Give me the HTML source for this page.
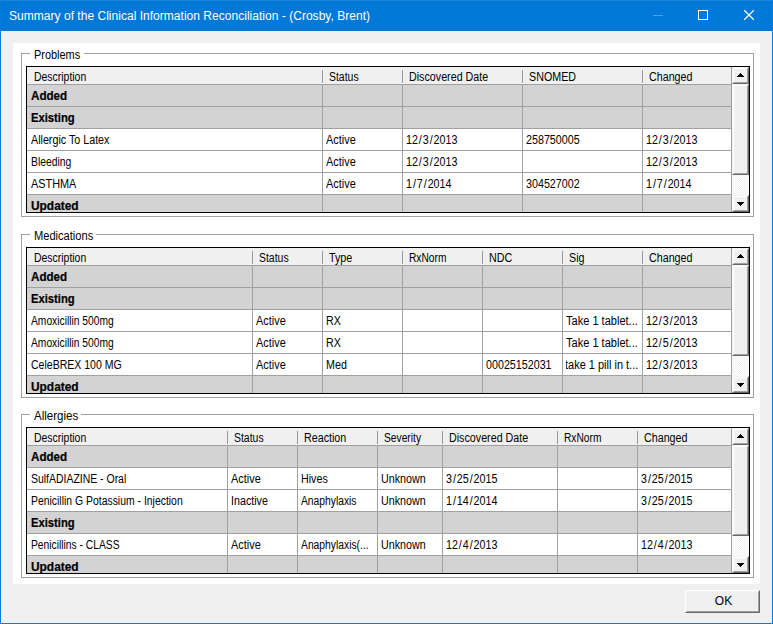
<!DOCTYPE html>
<html><head><meta charset="utf-8"><title>Summary</title>
<style>
html,body{margin:0;padding:0}
body{width:773px;height:624px;overflow:hidden;background:#f0f0f0;position:relative;font-family:"Liberation Sans",sans-serif;font-size:12px;color:#000}
.a{position:absolute}
.tb{left:0;top:0;width:773px;height:31px;background:#0078d7}
.bl{left:0;top:0;width:1px;height:624px;background:#0a7cd8}
.br{left:772px;top:0;width:1px;height:624px;background:#0a7cd8}
.bb{left:0;top:623px;width:773px;height:1px;background:#0a7cd8}
.title{left:9px;top:1px;height:31px;line-height:31px;color:#fff;font-size:12px;white-space:nowrap;transform-origin:0 50%;transform:scaleX(1.005)}
.panel{left:13px;top:43px;width:747px;height:541px;background:#fff}
.gb{border:1px solid #a0a0a0;box-sizing:border-box}
.gl{background:#fff;white-space:nowrap;height:14px;line-height:14px}
.t{display:inline-block;white-space:nowrap;transform-origin:0 50%;transform:scaleX(.893)}
.b .t{transform:scaleX(.95)}
.grid{background:#000}
.hd{background:#f0f0f0}
.ln{background:#a0a0a0}
.g{background:#d3d3d3}
.w{background:#fff}
.c{white-space:nowrap;overflow:hidden;height:21px;line-height:23px}
.h{white-space:nowrap;overflow:hidden;height:17px;line-height:20px}
.b{font-weight:bold;-webkit-text-stroke:.2px #000}
s{text-decoration:none;margin:0 1.05px}
.sbtn{box-sizing:border-box;background:#f0f0f0;border-style:solid;border-width:1px;border-color:#f4f4f4 #696969 #696969 #f4f4f4}
.sbtn i{position:absolute;left:0;top:0;right:0;bottom:0;border-style:solid;border-width:1px;border-color:#fff #a0a0a0 #a0a0a0 #fff}
.trk{background-color:#f0f0f0;background-image:linear-gradient(45deg,#fff 25%,transparent 25%,transparent 75%,#fff 75%),linear-gradient(45deg,#fff 25%,transparent 25%,transparent 75%,#fff 75%);background-size:2px 2px;background-position:0 0,1px 1px}
</style></head>
<body>
<div class="a tb"></div><div class="a" style="left:0;top:0;width:773px;height:1px;background:#1a84da"></div>
<div class="a title" id="title">Summary of the Clinical Information Reconciliation - (Crosby, Brent)</div>
<svg class="a" style="left:640px;top:0" width="133" height="31" viewBox="640 0 133 31"><rect x="653" y="15" width="10" height="1" fill="#4da0e3"/><rect x="698.5" y="10.5" width="9" height="9" fill="none" stroke="#fff" stroke-width="1"/><path d="M744.2 10.2 L753.8 19.8 M753.8 10.2 L744.2 19.8" stroke="#fff" stroke-width="1.25" fill="none"/></svg>
<div class="a panel"></div>
<div class="a gb" style="left:21px;top:53px;width:733px;height:164px"></div>
<div class="a gl" id="gl_Problems" style="left:30px;top:48px;width:50px;padding-left:4px"><span class="t" style="transform:scaleX(0.91);">Problems</span></div>
<div class="a grid" style="left:26px;top:66px;width:724px;height:147px"></div>
<div class="a hd" style="left:27px;top:67px;width:705px;height:17px"></div>
<div class="a ln" style="left:27px;top:84px;width:705px;height:128px"></div>
<div class="a ln" style="left:731px;top:67px;width:1px;height:17px"></div>
<div class="a ln" style="left:322px;top:70px;width:1px;height:13px;background:#9a9a9a"></div>
<div class="a ln" style="left:402px;top:70px;width:1px;height:13px;background:#9a9a9a"></div>
<div class="a ln" style="left:522px;top:70px;width:1px;height:13px;background:#9a9a9a"></div>
<div class="a ln" style="left:642px;top:70px;width:1px;height:13px;background:#9a9a9a"></div>
<div class="a h" style="left:34px;top:67px;width:288px;height:17px"><span class="t" style="transform:scaleX(0.87);">Description</span></div>
<div class="a h" style="left:329px;top:67px;width:73px;height:17px"><span class="t" style="transform:scaleX(0.87);">Status</span></div>
<div class="a h" style="left:409px;top:67px;width:113px;height:17px"><span class="t">Discovered Date</span></div>
<div class="a h" style="left:529px;top:67px;width:113px;height:17px"><span class="t">SNOMED</span></div>
<div class="a h" style="left:649px;top:67px;width:82px;height:17px"><span class="t">Changed</span></div>
<div class="a g" style="left:27px;top:85px;width:295px;height:21px"></div>
<div class="a c b" style="left:31px;top:85px;width:291px;height:21px"><span class="t" style="transform:scaleX(0.969);">Added</span></div>
<div class="a g" style="left:323px;top:85px;width:79px;height:21px"></div>
<div class="a g" style="left:403px;top:85px;width:119px;height:21px"></div>
<div class="a g" style="left:523px;top:85px;width:119px;height:21px"></div>
<div class="a g" style="left:643px;top:85px;width:88px;height:21px"></div>
<div class="a g" style="left:27px;top:107px;width:295px;height:21px"></div>
<div class="a c b" style="left:31px;top:107px;width:291px;height:21px"><span class="t" style="transform:scaleX(0.936);">Existing</span></div>
<div class="a g" style="left:323px;top:107px;width:79px;height:21px"></div>
<div class="a g" style="left:403px;top:107px;width:119px;height:21px"></div>
<div class="a g" style="left:523px;top:107px;width:119px;height:21px"></div>
<div class="a g" style="left:643px;top:107px;width:88px;height:21px"></div>
<div class="a w" style="left:27px;top:129px;width:295px;height:21px"></div>
<div class="a c" style="left:31px;top:129px;width:291px;height:21px"><span class="t">Allergic To Latex</span></div>
<div class="a w" style="left:323px;top:129px;width:79px;height:21px"></div>
<div class="a c" style="left:326px;top:129px;width:76px;height:21px"><span class="t" style="transform:scaleX(0.909);">Active</span></div>
<div class="a w" style="left:403px;top:129px;width:119px;height:21px"></div>
<div class="a c" style="left:406px;top:129px;width:116px;height:21px"><span class="t">12<s>/</s>3<s>/</s>2013</span></div>
<div class="a w" style="left:523px;top:129px;width:119px;height:21px"></div>
<div class="a c" style="left:526px;top:129px;width:116px;height:21px"><span class="t">258750005</span></div>
<div class="a w" style="left:643px;top:129px;width:88px;height:21px"></div>
<div class="a c" style="left:646px;top:129px;width:85px;height:21px"><span class="t">12<s>/</s>3<s>/</s>2013</span></div>
<div class="a w" style="left:27px;top:151px;width:295px;height:21px"></div>
<div class="a c" style="left:31px;top:151px;width:291px;height:21px"><span class="t" style="transform:scaleX(0.864);">Bleeding</span></div>
<div class="a w" style="left:323px;top:151px;width:79px;height:21px"></div>
<div class="a c" style="left:326px;top:151px;width:76px;height:21px"><span class="t" style="transform:scaleX(0.909);">Active</span></div>
<div class="a w" style="left:403px;top:151px;width:119px;height:21px"></div>
<div class="a c" style="left:406px;top:151px;width:116px;height:21px"><span class="t">12<s>/</s>3<s>/</s>2013</span></div>
<div class="a w" style="left:523px;top:151px;width:119px;height:21px"></div>
<div class="a w" style="left:643px;top:151px;width:88px;height:21px"></div>
<div class="a c" style="left:646px;top:151px;width:85px;height:21px"><span class="t">12<s>/</s>3<s>/</s>2013</span></div>
<div class="a w" style="left:27px;top:173px;width:295px;height:21px"></div>
<div class="a c" style="left:31px;top:173px;width:291px;height:21px"><span class="t" style="transform:scaleX(0.907);">ASTHMA</span></div>
<div class="a w" style="left:323px;top:173px;width:79px;height:21px"></div>
<div class="a c" style="left:326px;top:173px;width:76px;height:21px"><span class="t" style="transform:scaleX(0.909);">Active</span></div>
<div class="a w" style="left:403px;top:173px;width:119px;height:21px"></div>
<div class="a c" style="left:406px;top:173px;width:116px;height:21px"><span class="t">1<s>/</s>7<s>/</s>2014</span></div>
<div class="a w" style="left:523px;top:173px;width:119px;height:21px"></div>
<div class="a c" style="left:526px;top:173px;width:116px;height:21px"><span class="t">304527002</span></div>
<div class="a w" style="left:643px;top:173px;width:88px;height:21px"></div>
<div class="a c" style="left:646px;top:173px;width:85px;height:21px"><span class="t">1<s>/</s>7<s>/</s>2014</span></div>
<div class="a g" style="left:27px;top:195px;width:295px;height:17px"></div>
<div class="a c b" style="left:31px;top:195px;width:291px;height:17px"><span class="t" style="transform:scaleX(0.992);">Updated</span></div>
<div class="a g" style="left:323px;top:195px;width:79px;height:17px"></div>
<div class="a g" style="left:403px;top:195px;width:119px;height:17px"></div>
<div class="a g" style="left:523px;top:195px;width:119px;height:17px"></div>
<div class="a g" style="left:643px;top:195px;width:88px;height:17px"></div>
<div class="a sbtn" style="left:732px;top:67px;width:17px;height:17px"><i></i></div>
<div class="a" style="left:740px;top:73px;width:1px;height:1px;background:#000"></div><div class="a" style="left:739px;top:74px;width:3px;height:1px;background:#000"></div><div class="a" style="left:738px;top:75px;width:5px;height:1px;background:#000"></div><div class="a" style="left:737px;top:76px;width:7px;height:1px;background:#000"></div>
<div class="a sbtn" style="left:732px;top:84px;width:17px;height:91px"><i></i></div>
<div class="a trk" style="left:732px;top:175px;width:17px;height:20px"></div>
<div class="a sbtn" style="left:732px;top:195px;width:17px;height:17px"><i></i></div>
<div class="a" style="left:737px;top:202px;width:7px;height:1px;background:#000"></div><div class="a" style="left:738px;top:203px;width:5px;height:1px;background:#000"></div><div class="a" style="left:739px;top:204px;width:3px;height:1px;background:#000"></div><div class="a" style="left:740px;top:205px;width:1px;height:1px;background:#000"></div>
<div class="a gb" style="left:21px;top:234px;width:733px;height:164px"></div>
<div class="a gl" id="gl_Medications" style="left:30px;top:229px;width:62px;padding-left:4px"><span class="t" style="transform:scaleX(0.925);">Medications</span></div>
<div class="a grid" style="left:26px;top:247px;width:724px;height:147px"></div>
<div class="a hd" style="left:27px;top:248px;width:705px;height:17px"></div>
<div class="a ln" style="left:27px;top:265px;width:705px;height:128px"></div>
<div class="a ln" style="left:731px;top:248px;width:1px;height:17px"></div>
<div class="a ln" style="left:252px;top:251px;width:1px;height:13px;background:#9a9a9a"></div>
<div class="a ln" style="left:322px;top:251px;width:1px;height:13px;background:#9a9a9a"></div>
<div class="a ln" style="left:402px;top:251px;width:1px;height:13px;background:#9a9a9a"></div>
<div class="a ln" style="left:482px;top:251px;width:1px;height:13px;background:#9a9a9a"></div>
<div class="a ln" style="left:562px;top:251px;width:1px;height:13px;background:#9a9a9a"></div>
<div class="a ln" style="left:642px;top:251px;width:1px;height:13px;background:#9a9a9a"></div>
<div class="a h" style="left:34px;top:248px;width:218px;height:17px"><span class="t" style="transform:scaleX(0.87);">Description</span></div>
<div class="a h" style="left:259px;top:248px;width:63px;height:17px"><span class="t" style="transform:scaleX(0.87);">Status</span></div>
<div class="a h" style="left:329px;top:248px;width:73px;height:17px"><span class="t">Type</span></div>
<div class="a h" style="left:409px;top:248px;width:73px;height:17px"><span class="t" style="transform:scaleX(0.85);">RxNorm</span></div>
<div class="a h" style="left:489px;top:248px;width:73px;height:17px"><span class="t">NDC</span></div>
<div class="a h" style="left:569px;top:248px;width:73px;height:17px"><span class="t">Sig</span></div>
<div class="a h" style="left:649px;top:248px;width:82px;height:17px"><span class="t">Changed</span></div>
<div class="a g" style="left:27px;top:266px;width:225px;height:21px"></div>
<div class="a c b" style="left:31px;top:266px;width:221px;height:21px"><span class="t" style="transform:scaleX(0.969);">Added</span></div>
<div class="a g" style="left:253px;top:266px;width:69px;height:21px"></div>
<div class="a g" style="left:323px;top:266px;width:79px;height:21px"></div>
<div class="a g" style="left:403px;top:266px;width:79px;height:21px"></div>
<div class="a g" style="left:483px;top:266px;width:79px;height:21px"></div>
<div class="a g" style="left:563px;top:266px;width:79px;height:21px"></div>
<div class="a g" style="left:643px;top:266px;width:88px;height:21px"></div>
<div class="a g" style="left:27px;top:288px;width:225px;height:21px"></div>
<div class="a c b" style="left:31px;top:288px;width:221px;height:21px"><span class="t" style="transform:scaleX(0.936);">Existing</span></div>
<div class="a g" style="left:253px;top:288px;width:69px;height:21px"></div>
<div class="a g" style="left:323px;top:288px;width:79px;height:21px"></div>
<div class="a g" style="left:403px;top:288px;width:79px;height:21px"></div>
<div class="a g" style="left:483px;top:288px;width:79px;height:21px"></div>
<div class="a g" style="left:563px;top:288px;width:79px;height:21px"></div>
<div class="a g" style="left:643px;top:288px;width:88px;height:21px"></div>
<div class="a w" style="left:27px;top:310px;width:225px;height:21px"></div>
<div class="a c" style="left:31px;top:310px;width:221px;height:21px"><span class="t" style="transform:scaleX(0.855);">Amoxicillin 500mg</span></div>
<div class="a w" style="left:253px;top:310px;width:69px;height:21px"></div>
<div class="a c" style="left:256px;top:310px;width:66px;height:21px"><span class="t" style="transform:scaleX(0.909);">Active</span></div>
<div class="a w" style="left:323px;top:310px;width:79px;height:21px"></div>
<div class="a c" style="left:326px;top:310px;width:76px;height:21px"><span class="t">RX</span></div>
<div class="a w" style="left:403px;top:310px;width:79px;height:21px"></div>
<div class="a w" style="left:483px;top:310px;width:79px;height:21px"></div>
<div class="a w" style="left:563px;top:310px;width:79px;height:21px"></div>
<div class="a c" style="left:566px;top:310px;width:76px;height:21px"><span class="t" style="transform:scaleX(0.92);">Take 1 tablet...</span></div>
<div class="a w" style="left:643px;top:310px;width:88px;height:21px"></div>
<div class="a c" style="left:646px;top:310px;width:85px;height:21px"><span class="t">12<s>/</s>3<s>/</s>2013</span></div>
<div class="a w" style="left:27px;top:332px;width:225px;height:21px"></div>
<div class="a c" style="left:31px;top:332px;width:221px;height:21px"><span class="t" style="transform:scaleX(0.855);">Amoxicillin 500mg</span></div>
<div class="a w" style="left:253px;top:332px;width:69px;height:21px"></div>
<div class="a c" style="left:256px;top:332px;width:66px;height:21px"><span class="t" style="transform:scaleX(0.909);">Active</span></div>
<div class="a w" style="left:323px;top:332px;width:79px;height:21px"></div>
<div class="a c" style="left:326px;top:332px;width:76px;height:21px"><span class="t">RX</span></div>
<div class="a w" style="left:403px;top:332px;width:79px;height:21px"></div>
<div class="a w" style="left:483px;top:332px;width:79px;height:21px"></div>
<div class="a w" style="left:563px;top:332px;width:79px;height:21px"></div>
<div class="a c" style="left:566px;top:332px;width:76px;height:21px"><span class="t" style="transform:scaleX(0.92);">Take 1 tablet...</span></div>
<div class="a w" style="left:643px;top:332px;width:88px;height:21px"></div>
<div class="a c" style="left:646px;top:332px;width:85px;height:21px"><span class="t">12<s>/</s>5<s>/</s>2013</span></div>
<div class="a w" style="left:27px;top:354px;width:225px;height:21px"></div>
<div class="a c" style="left:31px;top:354px;width:221px;height:21px"><span class="t" style="transform:scaleX(0.877);">CeleBREX 100 MG</span></div>
<div class="a w" style="left:253px;top:354px;width:69px;height:21px"></div>
<div class="a c" style="left:256px;top:354px;width:66px;height:21px"><span class="t" style="transform:scaleX(0.909);">Active</span></div>
<div class="a w" style="left:323px;top:354px;width:79px;height:21px"></div>
<div class="a c" style="left:326px;top:354px;width:76px;height:21px"><span class="t">Med</span></div>
<div class="a w" style="left:403px;top:354px;width:79px;height:21px"></div>
<div class="a w" style="left:483px;top:354px;width:79px;height:21px"></div>
<div class="a c" style="left:486px;top:354px;width:76px;height:21px"><span class="t">00025152031</span></div>
<div class="a w" style="left:563px;top:354px;width:79px;height:21px"></div>
<div class="a c" style="left:566px;top:354px;width:76px;height:21px"><span class="t" style="transform:scaleX(0.915);margin-left:-1.5px;">take 1 pill in t...</span></div>
<div class="a w" style="left:643px;top:354px;width:88px;height:21px"></div>
<div class="a c" style="left:646px;top:354px;width:85px;height:21px"><span class="t">12<s>/</s>3<s>/</s>2013</span></div>
<div class="a g" style="left:27px;top:376px;width:225px;height:17px"></div>
<div class="a c b" style="left:31px;top:376px;width:221px;height:17px"><span class="t" style="transform:scaleX(0.992);">Updated</span></div>
<div class="a g" style="left:253px;top:376px;width:69px;height:17px"></div>
<div class="a g" style="left:323px;top:376px;width:79px;height:17px"></div>
<div class="a g" style="left:403px;top:376px;width:79px;height:17px"></div>
<div class="a g" style="left:483px;top:376px;width:79px;height:17px"></div>
<div class="a g" style="left:563px;top:376px;width:79px;height:17px"></div>
<div class="a g" style="left:643px;top:376px;width:88px;height:17px"></div>
<div class="a sbtn" style="left:732px;top:248px;width:17px;height:17px"><i></i></div>
<div class="a" style="left:740px;top:254px;width:1px;height:1px;background:#000"></div><div class="a" style="left:739px;top:255px;width:3px;height:1px;background:#000"></div><div class="a" style="left:738px;top:256px;width:5px;height:1px;background:#000"></div><div class="a" style="left:737px;top:257px;width:7px;height:1px;background:#000"></div>
<div class="a sbtn" style="left:732px;top:265px;width:17px;height:91px"><i></i></div>
<div class="a trk" style="left:732px;top:356px;width:17px;height:20px"></div>
<div class="a sbtn" style="left:732px;top:376px;width:17px;height:17px"><i></i></div>
<div class="a" style="left:737px;top:383px;width:7px;height:1px;background:#000"></div><div class="a" style="left:738px;top:384px;width:5px;height:1px;background:#000"></div><div class="a" style="left:739px;top:385px;width:3px;height:1px;background:#000"></div><div class="a" style="left:740px;top:386px;width:1px;height:1px;background:#000"></div>
<div class="a gb" style="left:21px;top:414px;width:733px;height:164px"></div>
<div class="a gl" id="gl_Allergies" style="left:30px;top:409px;width:47px;padding-left:4px"><span class="t" style="transform:scaleX(0.96);">Allergies</span></div>
<div class="a grid" style="left:26px;top:427px;width:724px;height:147px"></div>
<div class="a hd" style="left:27px;top:428px;width:705px;height:17px"></div>
<div class="a ln" style="left:27px;top:445px;width:705px;height:128px"></div>
<div class="a ln" style="left:731px;top:428px;width:1px;height:17px"></div>
<div class="a ln" style="left:227px;top:431px;width:1px;height:13px;background:#9a9a9a"></div>
<div class="a ln" style="left:297px;top:431px;width:1px;height:13px;background:#9a9a9a"></div>
<div class="a ln" style="left:377px;top:431px;width:1px;height:13px;background:#9a9a9a"></div>
<div class="a ln" style="left:442px;top:431px;width:1px;height:13px;background:#9a9a9a"></div>
<div class="a ln" style="left:557px;top:431px;width:1px;height:13px;background:#9a9a9a"></div>
<div class="a ln" style="left:637px;top:431px;width:1px;height:13px;background:#9a9a9a"></div>
<div class="a h" style="left:34px;top:428px;width:193px;height:17px"><span class="t" style="transform:scaleX(0.87);">Description</span></div>
<div class="a h" style="left:234px;top:428px;width:63px;height:17px"><span class="t" style="transform:scaleX(0.87);">Status</span></div>
<div class="a h" style="left:304px;top:428px;width:73px;height:17px"><span class="t">Reaction</span></div>
<div class="a h" style="left:384px;top:428px;width:58px;height:17px"><span class="t" style="transform:scaleX(0.854);">Severity</span></div>
<div class="a h" style="left:449px;top:428px;width:108px;height:17px"><span class="t">Discovered Date</span></div>
<div class="a h" style="left:564px;top:428px;width:73px;height:17px"><span class="t" style="transform:scaleX(0.85);">RxNorm</span></div>
<div class="a h" style="left:644px;top:428px;width:87px;height:17px"><span class="t">Changed</span></div>
<div class="a g" style="left:27px;top:446px;width:200px;height:21px"></div>
<div class="a c b" style="left:31px;top:446px;width:196px;height:21px"><span class="t" style="transform:scaleX(0.969);">Added</span></div>
<div class="a g" style="left:228px;top:446px;width:69px;height:21px"></div>
<div class="a g" style="left:298px;top:446px;width:79px;height:21px"></div>
<div class="a g" style="left:378px;top:446px;width:64px;height:21px"></div>
<div class="a g" style="left:443px;top:446px;width:114px;height:21px"></div>
<div class="a g" style="left:558px;top:446px;width:79px;height:21px"></div>
<div class="a g" style="left:638px;top:446px;width:93px;height:21px"></div>
<div class="a w" style="left:27px;top:468px;width:200px;height:21px"></div>
<div class="a c" style="left:31px;top:468px;width:196px;height:21px"><span class="t" style="transform:scaleX(0.871);">SulfADIAZINE - Oral</span></div>
<div class="a w" style="left:228px;top:468px;width:69px;height:21px"></div>
<div class="a c" style="left:231px;top:468px;width:66px;height:21px"><span class="t" style="transform:scaleX(0.909);">Active</span></div>
<div class="a w" style="left:298px;top:468px;width:79px;height:21px"></div>
<div class="a c" style="left:301px;top:468px;width:76px;height:21px"><span class="t">Hives</span></div>
<div class="a w" style="left:378px;top:468px;width:64px;height:21px"></div>
<div class="a c" style="left:381px;top:468px;width:61px;height:21px"><span class="t">Unknown</span></div>
<div class="a w" style="left:443px;top:468px;width:114px;height:21px"></div>
<div class="a c" style="left:446px;top:468px;width:111px;height:21px"><span class="t">3<s>/</s>25<s>/</s>2015</span></div>
<div class="a w" style="left:558px;top:468px;width:79px;height:21px"></div>
<div class="a w" style="left:638px;top:468px;width:93px;height:21px"></div>
<div class="a c" style="left:641px;top:468px;width:90px;height:21px"><span class="t">3<s>/</s>25<s>/</s>2015</span></div>
<div class="a w" style="left:27px;top:490px;width:200px;height:21px"></div>
<div class="a c" style="left:31px;top:490px;width:196px;height:21px"><span class="t" style="transform:scaleX(0.868);">Penicillin G Potassium - Injection</span></div>
<div class="a w" style="left:228px;top:490px;width:69px;height:21px"></div>
<div class="a c" style="left:231px;top:490px;width:66px;height:21px"><span class="t">Inactive</span></div>
<div class="a w" style="left:298px;top:490px;width:79px;height:21px"></div>
<div class="a c" style="left:301px;top:490px;width:76px;height:21px"><span class="t" style="transform:scaleX(0.857);">Anaphylaxis</span></div>
<div class="a w" style="left:378px;top:490px;width:64px;height:21px"></div>
<div class="a c" style="left:381px;top:490px;width:61px;height:21px"><span class="t">Unknown</span></div>
<div class="a w" style="left:443px;top:490px;width:114px;height:21px"></div>
<div class="a c" style="left:446px;top:490px;width:111px;height:21px"><span class="t">1<s>/</s>14<s>/</s>2014</span></div>
<div class="a w" style="left:558px;top:490px;width:79px;height:21px"></div>
<div class="a w" style="left:638px;top:490px;width:93px;height:21px"></div>
<div class="a c" style="left:641px;top:490px;width:90px;height:21px"><span class="t">3<s>/</s>25<s>/</s>2015</span></div>
<div class="a g" style="left:27px;top:512px;width:200px;height:21px"></div>
<div class="a c b" style="left:31px;top:512px;width:196px;height:21px"><span class="t" style="transform:scaleX(0.936);">Existing</span></div>
<div class="a g" style="left:228px;top:512px;width:69px;height:21px"></div>
<div class="a g" style="left:298px;top:512px;width:79px;height:21px"></div>
<div class="a g" style="left:378px;top:512px;width:64px;height:21px"></div>
<div class="a g" style="left:443px;top:512px;width:114px;height:21px"></div>
<div class="a g" style="left:558px;top:512px;width:79px;height:21px"></div>
<div class="a g" style="left:638px;top:512px;width:93px;height:21px"></div>
<div class="a w" style="left:27px;top:534px;width:200px;height:21px"></div>
<div class="a c" style="left:31px;top:534px;width:196px;height:21px"><span class="t" style="transform:scaleX(0.857);">Penicillins - CLASS</span></div>
<div class="a w" style="left:228px;top:534px;width:69px;height:21px"></div>
<div class="a c" style="left:231px;top:534px;width:66px;height:21px"><span class="t" style="transform:scaleX(0.909);">Active</span></div>
<div class="a w" style="left:298px;top:534px;width:79px;height:21px"></div>
<div class="a c" style="left:301px;top:534px;width:76px;height:21px"><span class="t" style="transform:scaleX(0.859);">Anaphylaxis(...</span></div>
<div class="a w" style="left:378px;top:534px;width:64px;height:21px"></div>
<div class="a c" style="left:381px;top:534px;width:61px;height:21px"><span class="t">Unknown</span></div>
<div class="a w" style="left:443px;top:534px;width:114px;height:21px"></div>
<div class="a c" style="left:446px;top:534px;width:111px;height:21px"><span class="t">12<s>/</s>4<s>/</s>2013</span></div>
<div class="a w" style="left:558px;top:534px;width:79px;height:21px"></div>
<div class="a w" style="left:638px;top:534px;width:93px;height:21px"></div>
<div class="a c" style="left:641px;top:534px;width:90px;height:21px"><span class="t">12<s>/</s>4<s>/</s>2013</span></div>
<div class="a g" style="left:27px;top:556px;width:200px;height:17px"></div>
<div class="a c b" style="left:31px;top:556px;width:196px;height:17px"><span class="t" style="transform:scaleX(0.992);">Updated</span></div>
<div class="a g" style="left:228px;top:556px;width:69px;height:17px"></div>
<div class="a g" style="left:298px;top:556px;width:79px;height:17px"></div>
<div class="a g" style="left:378px;top:556px;width:64px;height:17px"></div>
<div class="a g" style="left:443px;top:556px;width:114px;height:17px"></div>
<div class="a g" style="left:558px;top:556px;width:79px;height:17px"></div>
<div class="a g" style="left:638px;top:556px;width:93px;height:17px"></div>
<div class="a sbtn" style="left:732px;top:428px;width:17px;height:17px"><i></i></div>
<div class="a" style="left:740px;top:434px;width:1px;height:1px;background:#000"></div><div class="a" style="left:739px;top:435px;width:3px;height:1px;background:#000"></div><div class="a" style="left:738px;top:436px;width:5px;height:1px;background:#000"></div><div class="a" style="left:737px;top:437px;width:7px;height:1px;background:#000"></div>
<div class="a sbtn" style="left:732px;top:445px;width:17px;height:91px"><i></i></div>
<div class="a trk" style="left:732px;top:536px;width:17px;height:20px"></div>
<div class="a sbtn" style="left:732px;top:556px;width:17px;height:17px"><i></i></div>
<div class="a" style="left:737px;top:563px;width:7px;height:1px;background:#000"></div><div class="a" style="left:738px;top:564px;width:5px;height:1px;background:#000"></div><div class="a" style="left:739px;top:565px;width:3px;height:1px;background:#000"></div><div class="a" style="left:740px;top:566px;width:1px;height:1px;background:#000"></div>
<div class="a sbtn" style="left:685px;top:590px;width:75px;height:23px;border-color:#fff #696969 #696969 #fff"><i style="border-color:#f0f0f0 #a0a0a0 #a0a0a0 #f0f0f0"></i></div>
<div class="a" id="ok" style="left:686px;top:590px;width:75px;height:23px;line-height:23px;text-align:center"><span class="t" style="transform-origin:50% 50%;transform:scaleX(1)">OK</span></div>
<div class="a bl"></div><div class="a br"></div><div class="a bb"></div>
</body></html>
